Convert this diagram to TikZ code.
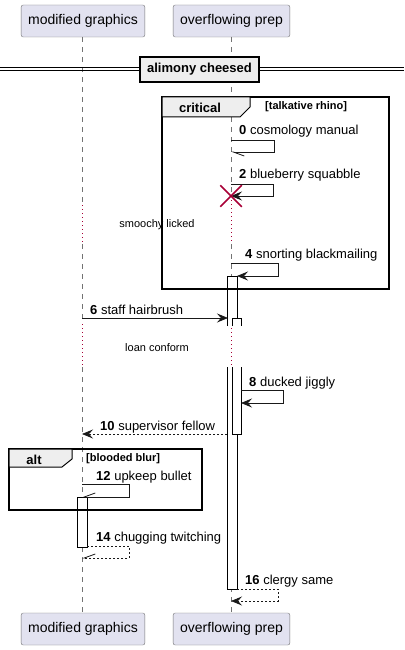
\documentclass[tikz,border=0pt]{standalone}
\usepackage{fontspec}
\setmainfont{Liberation Sans}
\usepackage{xcolor}
\definecolor{partfill}{HTML}{E2E2F0}
\definecolor{killred}{HTML}{A80036}
\definecolor{tabgray}{HTML}{EEEEEE}
\usepackage{tikz}
\usetikzlibrary{arrows.meta,positioning,shapes.misc}

\begin{document}
\begin{tikzpicture}[x=1pt,y=-1pt,
      part/.style={draw=black!55, rounded corners=2pt, fill=partfill, inner xsep=7pt, minimum height=32pt, font=\fontsize{14}{16}\selectfont},
      life/.style={draw=black!55, dash pattern=on 5pt off 5pt},
      delay/.style={draw=killred, dash pattern=on 1pt off 3pt},
      msg/.style={draw=black!90, line width=0.8pt},
      ret/.style={msg, dash pattern=on 2pt off 2pt},
      full/.style={-{Stealth[length=11pt,width=9pt,inset=4pt]}},
      halfdn/.style={-{Straight Barb[harpoon,length=11pt,width=8pt]}},
      halfup/.style={-{Straight Barb[harpoon,swap,length=11pt,width=8pt]}},
      lbl/.style={anchor=base west, inner sep=0pt, font=\fontsize{13}{15}\selectfont},
      note/.style={inner sep=0pt, font=\fontsize{11}{13}\selectfont},
      tabtxt/.style={inner sep=0pt, font=\bfseries\fontsize{13}{15}\selectfont},
      cond/.style={anchor=west, inner sep=0pt, font=\bfseries\fontsize{11}{13}\selectfont},
      frame/.style={draw=black, line width=1.5pt},
      tab/.style={draw=black, fill=tabgray, line width=1pt},
      act/.style={draw=black, fill=white, line width=0.8pt}
    ]
    \useasboundingbox (0,0) rectangle (404,650);
    % participants
    \node[part] (topgfx) at (83,21) {modified graphics};
    \node[part] (topprep) at (231.5,21) {overflowing prep};
    \node[part] (botgfx) at (83,629) {modified graphics};
    \node[part] (botprep) at (231.5,629) {overflowing prep};
    % lifelines, with the two delays
    \draw[life] (82,37) -- (82,205);
    \draw[delay] (82,205) -- (82,244);
    \draw[life] (82,244) -- (82,324);
    \draw[delay] (82,324) -- (82,367);
    \draw[life] (82,367) -- (82,613);
    \draw[life] (231,37) -- (231,196);
    \draw[delay] (231,200) -- (231,244);
    \draw[life] (231,244) -- (231,324);
    \draw[delay] (231,324) -- (231,367);
    \draw[life] (231,367) -- (231,613);
    \node[note] (smoochy) at (157,225) {smoochy licked};
    \node[note] (loan) at (157,348) {loan conform};
    % activations
    \draw[act] (227,326) -- (227,276) -- (237,276) -- (237,326);
    \draw[act] (227,367) -- (227,589) -- (237,589) -- (237,367);
    \draw[act] (232,326) -- (232,318) -- (241,318) -- (241,326);
    \draw[act] (232,367) -- (232,434) -- (241,434) -- (241,367);
    \draw[act] (77,497) rectangle (87,547);
    % divider
    \draw[line width=1pt] (0,68) -- (404,68) (0,71) -- (404,71);
    \node[draw=black, line width=1.5pt, fill=tabgray, inner xsep=7pt, minimum height=25pt, font=\bfseries\fontsize{13}{15}\selectfont] (alimony) at (199.5,69.5) {alimony cheesed\hspace{7pt}};
    % critical frame
    \draw[frame] (162,97) rectangle (389,289);
    \draw[tab] (162,97) -- (250,97) -- (250,107) -- (240,117) -- (162,117) -- cycle;
    \node[tabtxt] (crit) at (200,108) {critical};
    \node[cond] (rhino) at (265,107) {[talkative rhino]};
    % alt frame
    \draw[frame] (9,449) rectangle (202,510);
    \draw[tab] (9,449) -- (72,449) -- (72,459) -- (62,467) -- (9,467) -- cycle;
    \node[tabtxt] (alt) at (34,460) {alt};
    \node[cond] (blur) at (86,459) {[blooded blur]};
    % messages
    \coordinate (m0s) at (231,140);  \coordinate (m0e) at (231,152);
    \coordinate (m2s) at (231,184);  \coordinate (m2e) at (231,196);
    \coordinate (m4s) at (231,263);  \coordinate (m4e) at (237,276);
    \coordinate (m6s) at (82,318);   \coordinate (m6e) at (228,318);
    \coordinate (m8s) at (241,390);  \coordinate (m8e) at (241,403);
    \coordinate (m10s) at (227,434); \coordinate (m10e) at (82,434);
    \coordinate (m12s) at (82,484);  \coordinate (m12e) at (82,497);
    \coordinate (m14s) at (87,546);  \coordinate (m14e) at (82,558);
    \coordinate (m16s) at (237,589); \coordinate (m16e) at (231,601);
    \draw[msg, halfdn] (m0s) -- ++(43,0) |- (m0e);
    \node[lbl] (t0) at (239,135) {\textbf{0} cosmology manual};
    \draw[msg, full] (m2s) -- ++(42,0) |- (m2e);
    \node[lbl] (t2) at (239,178) {\textbf{2} blueberry squabble};
    \node[draw=killred, cross out, line width=1.5pt, minimum size=20pt, inner sep=0pt] (kill) at (m2e) {};
    \draw[msg, full] (m4s) -- ++(47,0) |- (m4e);
    \node[lbl] (t4) at (245,258) {\textbf{4} snorting blackmailing};
    \draw[msg, full] (m6s) -- (m6e);
    \node[lbl] (t6) at (90,314) {\textbf{6} staff hairbrush};
    \draw[msg, full] (m8s) -- ++(42,0) |- (m8e);
    \node[lbl] (t8) at (249,386) {\textbf{8} ducked jiggly};
    \draw[ret, full] (m10s) -- (m10e);
    \node[lbl] (t10) at (100,430) {\textbf{10} supervisor fellow};
    \draw[msg, halfup] (m12s) -- ++(47,0) |- (m12e);
    \node[lbl] (t12) at (96,480) {\textbf{12} upkeep bullet};
    \draw[ret, halfup] (m14s) -- ++(42,0) |- (m14e);
    \node[lbl] (t14) at (96,541) {\textbf{14} chugging twitching};
    \draw[ret, full] (m16s) -- ++(41,0) |- (m16e);
    \node[lbl] (t16) at (245,584) {\textbf{16} clergy same};
  \end{tikzpicture}
\end{document}
